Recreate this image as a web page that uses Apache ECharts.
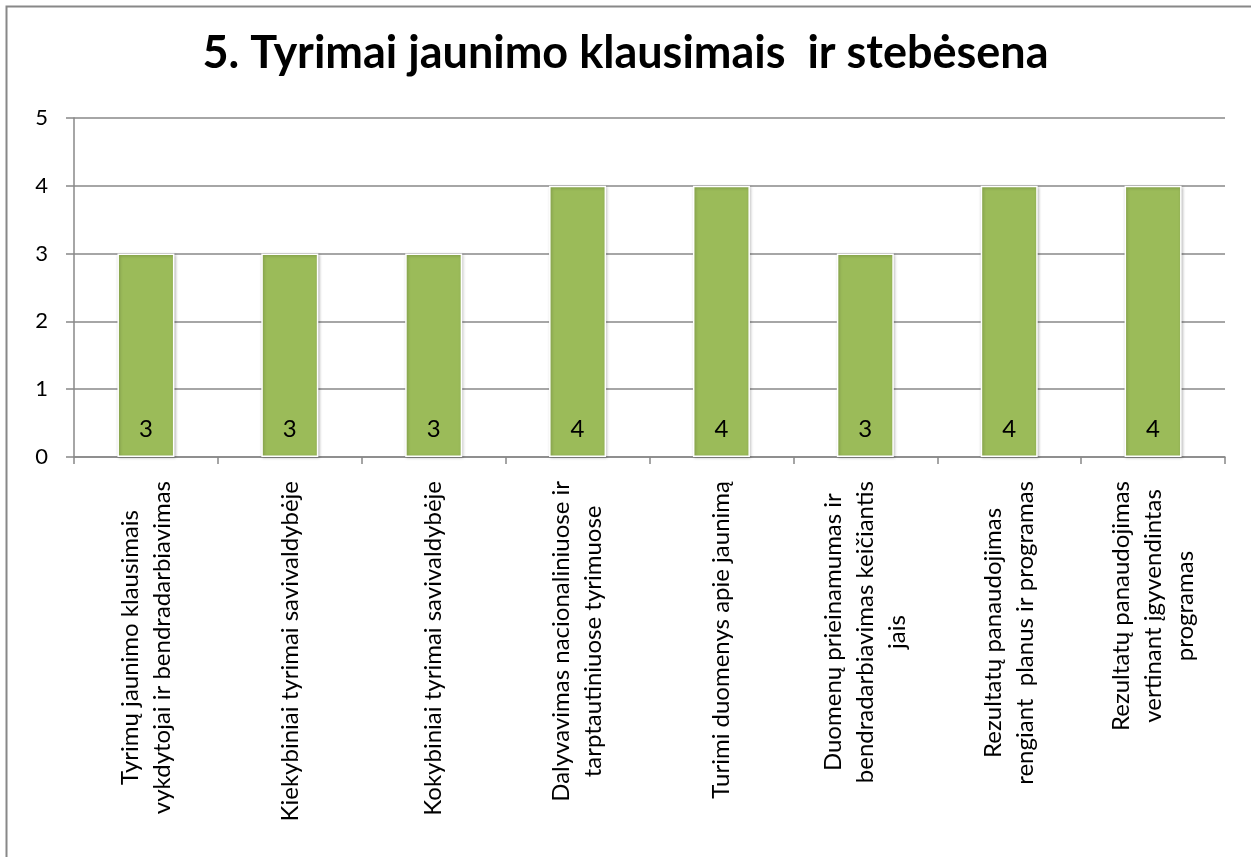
<!DOCTYPE html>
<html>
<head>
<meta charset="utf-8">
<script src="https://cdn.jsdelivr.net/npm/echarts@6/dist/echarts.min.js"></script>
<style>
html,body{margin:0;padding:0;background:#fff;}
#c{width:1251px;height:857px;}
</style>
</head>
<body>
<div id="c"></div>
<script>
const titleText = '5. Tyrimai jaunimo klausimais  ir stebėsena';
const categories = [
  'Tyrimų jaunimo klausimais\nvykdytojai ir bendradarbiavimas',
  'Kiekybiniai tyrimai savivaldybėje',
  'Kokybiniai tyrimai savivaldybėje',
  'Dalyvavimas nacionaliniuose ir\ntarptautiniuose tyrimuose',
  'Turimi duomenys apie jaunimą',
  'Duomenų prieinamumas ir\nbendradarbiavimas keičiantis\njais',
  'Rezultatų panaudojimas\nrengiant  planus ir programas',
  'Rezultatų panaudojimas\nvertinant įgyvendintas\nprogramas'
];
const values = [3, 3, 3, 4, 4, 3, 4, 4];
const yTicks = [0, 1, 2, 3, 4, 5];

const FONT = 'Lato, "Open Sans", sans-serif';
const chart = echarts.init(document.getElementById('c'), null, {renderer: 'canvas'});
chart.setOption({
  animation: false,
  backgroundColor: '#fff',
  title: {
    text: titleText,
    left: 'center',
    top: 26,
    textStyle: {fontFamily: FONT, fontWeight: 'bold', fontSize: 45, color: '#000'}
  },
  graphic: [{
    type: 'polyline',
    shape: {points: [[6.5, 900], [6.5, 6.5], [1260, 6.5]]},
    style: {stroke: '#888', lineWidth: 2, fill: null},
    silent: true
  }],
  grid: {left: 74, right: 26, top: 118, bottom: 400, containLabel: false},
  xAxis: {
    type: 'category',
    data: categories,
    axisLine: {show: true, lineStyle: {color: '#888', width: 1.5}},
    axisTick: {show: true, length: 7, alignWithLabel: false, lineStyle: {color: '#888', width: 1.5}},
    axisLabel: {
      interval: 0,
      rotate: 90,
      margin: 24,
      fontFamily: FONT,
      fontSize: 24,
      color: '#000',
      lineHeight: 32,
      formatter: function (v) {
        return v.split('\n').map(function (s) { return '{c|' + s + '}'; }).join('\n');
      },
      rich: {c: {align: 'center', fontFamily: FONT, fontSize: 24, lineHeight: 32, color: '#000'}}
    },
    splitLine: {show: false}
  },
  yAxis: {
    type: 'value',
    min: 0, max: 5, interval: 1,
    axisLine: {show: true, lineStyle: {color: '#888', width: 1.5}},
    axisTick: {show: true, length: 8, lineStyle: {color: '#888', width: 1.5}},
    axisLabel: {
      margin: 26,
      fontFamily: FONT, fontSize: 22, color: '#000',
      formatter: function (v) { return yTicks.indexOf(v) >= 0 ? String(v) : ''; }
    },
    splitLine: {show: true, lineStyle: {color: '#888', width: 1.5}}
  },
  series: [{
    type: 'bar',
    data: values,
    barWidth: 57,
    itemStyle: {
      color: '#9BBB59',
      borderColor: '#fff',
      borderWidth: 1.5,
      shadowColor: 'rgba(0,0,0,0.25)',
      shadowBlur: 3,
      shadowOffsetX: 1,
      shadowOffsetY: 1
    },
    label: {
      show: true,
      position: 'insideBottom',
      distance: 16,
      fontFamily: FONT,
      fontSize: 24,
      color: '#000'
    }
  }]
});
</script>
</body>
</html>
